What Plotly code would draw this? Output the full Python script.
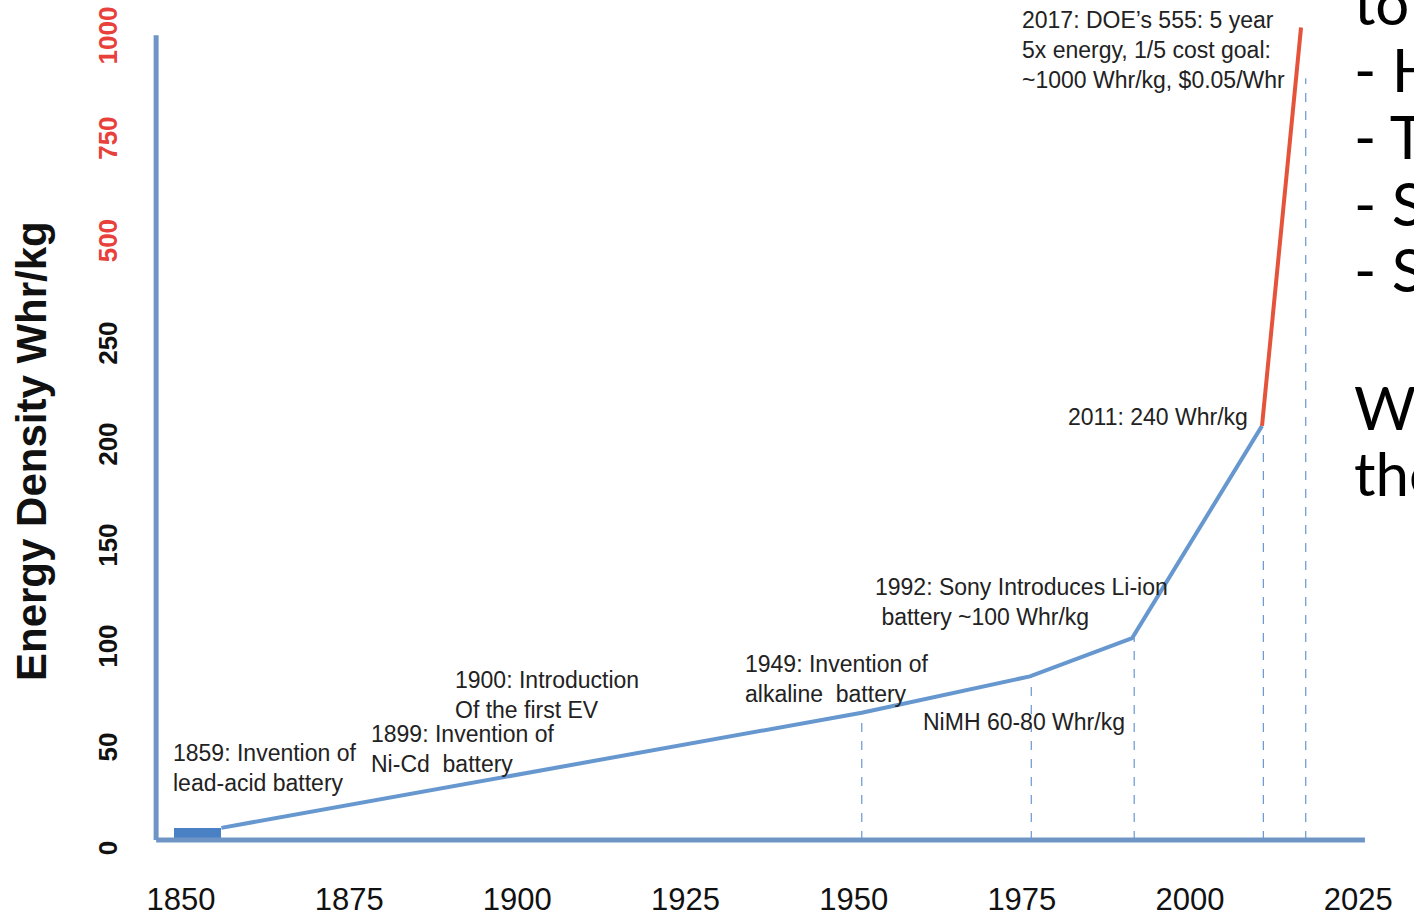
import plotly.graph_objects as go

W, H = 1414, 917

# ---------------- data ----------------
x_tick_years = [1850, 1875, 1900, 1925, 1950, 1975, 2000, 2025]
y_tick_values = [0, 50, 100, 150, 200, 250, 500, 750, 1000]
y_tick_red = [500, 750, 1000]

trend_years = [1856, 1951.2, 1976.2, 1991.4, 2010.7]
trend_values = [6, 63, 81, 100, 205]

goal_years = [2010.7, 2016.5]
goal_values = [205, 1000]

lead_acid_years = [1849, 1856]
lead_acid_value = 6

marker_years = [1951.2, 1976.4, 1991.7, 2010.9, 2017.2]
marker_tops = [63, 81, 100, 205, 876]

axis_top_value = 981
axis_x_start, axis_x_end = 1846.3, 2026

# ------------- broken y scale -------------
BREAK = 250
UPPER_SCALE = 0.203


def tf(v):
    return v if v <= BREAK else BREAK + (v - BREAK) * UPPER_SCALE


# ------------- geometry -------------
ML, MR, MT, MB = 150, 34, 10, 67
PW, PH = W - ML - MR, H - MT - MB
XR = [1845.39, 2028.24]
YR = [-4.95, 410.9]


def pxx(p):
    return (p - ML) / PW


def pxy(p):
    return (H - MB - p) / PH


BLUE = "#6797cf"
AXIS = "#6e95c6"
RED = "#e5533b"
TXT = "#222222"

fig = go.Figure()

# lead-acid block
fig.add_trace(go.Bar(
    x=[(lead_acid_years[0] + lead_acid_years[1]) / 2],
    y=[tf(lead_acid_value)],
    width=[lead_acid_years[1] - lead_acid_years[0]],
    marker=dict(color="#4a80c4", line=dict(width=0)),
    hoverinfo="skip",
))

# dashed drop lines
dx, dy = [], []
for yr, top in zip(marker_years, marker_tops):
    dx += [yr, yr, None]
    dy += [0, tf(top), None]
fig.add_trace(go.Scatter(x=dx, y=dy, mode="lines",
                         line=dict(color=BLUE, width=1.2, dash="dash"),
                         hoverinfo="skip"))

# trend line
fig.add_trace(go.Scatter(x=trend_years, y=[tf(v) for v in trend_values],
                         mode="lines", line=dict(color=BLUE, width=4)))
# goal line
fig.add_trace(go.Scatter(x=goal_years, y=[tf(v) for v in goal_values],
                         mode="lines", line=dict(color=RED, width=4)))

# axis lines
fig.add_shape(type="line", xref="x", yref="y", x0=axis_x_start, x1=axis_x_start,
              y0=0, y1=tf(axis_top_value), line=dict(color=AXIS, width=5))
fig.add_shape(type="line", xref="x", yref="y", x0=axis_x_start, x1=axis_x_end,
              y0=0, y1=0, line=dict(color=AXIS, width=5))

ticktext = []
for v in y_tick_values:
    if v in y_tick_red:
        ticktext.append(f'<span style="color:#e8403a">{v}</span>')
    else:
        ticktext.append(str(v))

fig.update_layout(
    width=W, height=H,
    margin=dict(l=ML, r=MR, t=MT, b=MB, pad=0, autoexpand=False),
    paper_bgcolor="white", plot_bgcolor="white",
    showlegend=False,
    bargap=0,
    xaxis=dict(range=XR, tickvals=x_tick_years, ticktext=[str(y) for y in x_tick_years],
               showgrid=False, zeroline=False, showline=False, ticks="",
               automargin=False,
               tickfont=dict(family="Liberation Sans", size=31, color="#111"),
               ticklabelstandoff=28),
    yaxis=dict(range=YR, tickvals=[tf(v) for v in y_tick_values], ticktext=ticktext,
               showgrid=False, zeroline=False, showline=False, ticks="",
               automargin=False,
               tickangle=-90,
               tickfont=dict(family="Liberation Sans", size=26, color="#111", weight="bold"),
               ticklabelstandoff=27, ticklabelshift=12),
)

ann_font = dict(family="Liberation Sans", size=23, color=TXT)


def note(text, left, cy, anchor="left"):
    fig.add_annotation(x=pxx(left), y=pxy(cy), xref="paper", yref="paper",
                       text=text, showarrow=False, xanchor=anchor, yanchor="middle",
                       align=anchor, font=ann_font)


note("2017: DOE’s 555: 5 year<br>5x energy, 1/5 cost goal:<br>~1000 Whr/kg, $0.05/Whr", 1020, 50)
note("2011: 240 Whr/kg", 1250, 417, anchor="right")
note("1992: Sony Introduces Li-ion<br>\u00a0battery ~100 Whr/kg", 873, 602)
note("1949: Invention of<br>alkaline  battery", 743, 679)
note("NiMH 60-80 Whr/kg", 921, 722)
note("1900: Introduction<br>Of the first EV", 453, 695)
note("1899: Invention of<br>Ni-Cd  battery", 369, 749)
note("1859: Invention of<br>lead-acid battery", 171, 768)

# y axis title
fig.add_annotation(x=pxx(31), y=pxy(451), xref="paper", yref="paper",
                   text="Energy Density Whr/kg", showarrow=False, textangle=-90,
                   xanchor="center", yanchor="middle",
                   font=dict(family="Liberation Sans", size=42, color="#111", weight="bold"))

# slide text on the right (cut by the page edge)
side_font = dict(family="Lato", size=60, color="#000")
for txt, cy in [("to", 2), ("- H", 69), ("- T", 136), ("- S", 203), ("- S", 269),
                ("Wh", 407), ("the", 473)]:
    fig.add_annotation(x=pxx(1352), y=pxy(cy), xref="paper", yref="paper",
                       text=txt, showarrow=False, xanchor="left", yanchor="middle",
                       align="left", font=side_font)

fig.write_html("out.html")
